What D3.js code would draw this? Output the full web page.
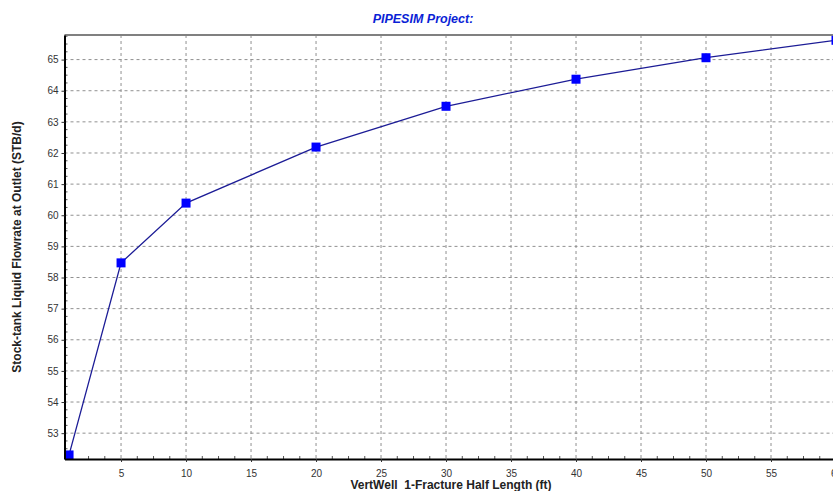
<!DOCTYPE html>
<html>
<head>
<meta charset="utf-8">
<script src="https://cdn.jsdelivr.net/npm/d3@7"></script>
<style>
  body { margin: 0; background: #fff; }
  svg { display: block; font-family: Arial, "Liberation Sans", sans-serif; }
</style>
</head>
<body>
<div id="chart"></div>
<script>
// data
var half_length = [1, 5, 10, 20, 30, 40, 50, 60];
var flowrate = [52.3, 58.47, 60.39, 62.19, 63.5, 64.37, 65.06, 65.62];
var x_ticks = [5, 10, 15, 20, 25, 30, 35, 40, 45, 50, 55, 60];
var y_ticks = [53, 54, 55, 56, 57, 58, 59, 60, 61, 62, 63, 64, 65];

var width = 833, height = 491;
var margin = {top: 35, right: -3, bottom: 32, left: 64.5};
var w = width - margin.left - margin.right,
    h = height - margin.top - margin.bottom;

var svg = d3.select("#chart").append("svg")
  .attr("width", width)
  .attr("height", height);

var g = svg.append("g")
  .attr("transform", "translate(" + margin.left + "," + margin.top + ")");

var x = d3.scaleLinear().domain([0.65, 60]).range([0, w]);
var y = d3.scaleLinear().domain([52.17, 65.79]).range([h, 0]);

// grid
g.selectAll(".vgrid").data(x_ticks).enter().append("line")
  .attr("x1", d => x(d)).attr("x2", d => x(d))
  .attr("y1", 0).attr("y2", h)
  .attr("stroke", "#909090").attr("stroke-width", 1)
  .attr("stroke-dasharray", "3,3");
g.selectAll(".hgrid").data(y_ticks).enter().append("line")
  .attr("x1", 0).attr("x2", w)
  .attr("y1", d => y(d)).attr("y2", d => y(d))
  .attr("stroke", "#909090").attr("stroke-width", 1)
  .attr("stroke-dasharray", "3,3");

// minor ticks (inside)
var x_minor = [];
for (var i = 0; i < 60; i += 1.25) if (i > 0.65 && i % 5 != 0) x_minor.push(i);
var y_minor = [];
for (var j = 52.25; j < 65.79; j += 0.25) if (Math.abs(j - Math.round(j)) > 0.01) y_minor.push(j);

g.selectAll(".xminor").data(x_minor).enter().append("line")
  .attr("x1", d => x(d)).attr("x2", d => x(d))
  .attr("y1", h).attr("y2", h - 3)
  .attr("stroke", "#555");
g.selectAll(".yminor").data(y_minor).enter().append("line")
  .attr("x1", 0).attr("x2", 3)
  .attr("y1", d => y(d)).attr("y2", d => y(d))
  .attr("stroke", "#555");

// top border
g.append("line")
  .attr("x1", 0).attr("x2", w).attr("y1", 0).attr("y2", 0)
  .attr("stroke", "#808080").attr("stroke-width", 2);

// series
var pts = half_length.map((d, i) => [d, flowrate[i]]);
var line = d3.line().x(d => x(d[0])).y(d => y(d[1]));
g.append("path")
  .datum(pts)
  .attr("d", line)
  .attr("fill", "none")
  .attr("stroke", "#1c1c96")
  .attr("stroke-width", 1.3);

g.selectAll(".pt").data(pts).enter().append("rect")
  .attr("x", d => x(d[0]) - 4.5)
  .attr("y", d => y(d[1]) - 4.5)
  .attr("width", 9).attr("height", 9)
  .attr("fill", "#0000ff");

// axes
var xAxis = g.append("g")
  .attr("transform", "translate(0," + h + ")")
  .call(d3.axisBottom(x).tickValues(x_ticks).tickSize(3).tickSizeOuter(0));
var yAxis = g.append("g")
  .call(d3.axisLeft(y).tickValues(y_ticks).tickSize(3).tickSizeOuter(0));

[xAxis, yAxis].forEach(function(a) {
  a.select(".domain").attr("stroke", "#000").attr("stroke-width", 2);
  a.selectAll(".tick line").attr("stroke", "#333");
  a.selectAll(".tick text")
    .attr("fill", "#333")
    .style("font-size", "10px")
    .style("font-family", "Arial, 'Liberation Sans', sans-serif");
});
xAxis.selectAll(".tick text").attr("dy", "1.15em");
yAxis.selectAll(".tick text").attr("x", -6);

// title and labels
svg.append("text")
  .attr("x", 423).attr("y", 23)
  .attr("text-anchor", "middle")
  .attr("fill", "#0b1fd6")
  .style("font-size", "12.5px")
  .style("font-weight", "bold")
  .style("font-style", "italic")
  .text("PIPESIM Project:");

svg.append("text")
  .attr("x", 451).attr("y", 489)
  .attr("text-anchor", "middle")
  .attr("fill", "#222")
  .style("font-size", "12px")
  .style("font-weight", "bold")
  .style("white-space", "pre")
  .attr("xml:space", "preserve")
  .text("VertWell  1-Fracture Half Length (ft)");

svg.append("text")
  .attr("transform", "translate(21," + (margin.top + h / 2) + ") rotate(-90)")
  .attr("text-anchor", "middle")
  .attr("fill", "#222")
  .style("font-size", "12px")
  .style("font-weight", "bold")
  .text("Stock-tank Liquid Flowrate at Outlet (STB/d)");
</script>
</body>
</html>
